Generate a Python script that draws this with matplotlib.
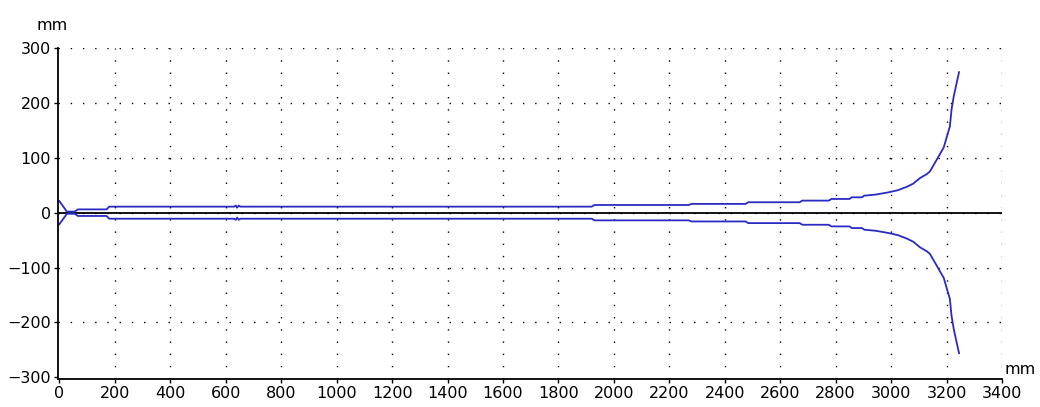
import numpy as np
import matplotlib
matplotlib.use("Agg")
import matplotlib.pyplot as plt

# ---------------- DATA ----------------
# distance along the part (mm) and upper envelope (mm); lower envelope is its mirror
dist = [0, 27, 55, 67, 170, 180, 630, 636, 641, 647, 653, 1920, 1930,
        2270, 2280, 2475, 2485, 2670, 2680, 2775, 2785, 2850, 2858, 2895,
        2903, 2945, 2990, 3025, 3056, 3080, 3104, 3128, 3140, 3164, 3190,
        3202, 3212, 3218, 3226, 3235, 3245]
upper = [21, 2, 2, 6, 6, 11, 11, 13, 9, 13, 11, 11, 14,
         14, 16, 16, 19, 19, 22, 22, 25, 25, 28, 28,
         31, 33, 37, 41, 47, 53, 63, 70, 75, 96, 119,
         140, 157, 188, 212, 233, 256]
lower = [-v for v in upper]

xticks = np.arange(0, 3401, 200)
yticks = [-300, -200, -100, 0, 100, 200, 300]

# ---------------- PLOT ----------------
plt.rcParams['font.family'] = ['DejaVu Sans']
fig = plt.figure(figsize=(10.4, 4.07), dpi=100)
ax = fig.add_axes([58 / 1040, 28 / 407, 944 / 1040, 331 / 407])

ax.set_xlim(-5, 3400)
ax.set_ylim(-303, 300)

dots = (0, (1, 7.8))
for xv in xticks[1:]:
    ax.axvline(xv, color='black', lw=1.0, linestyle=dots, zorder=0)
for yv in yticks[1:]:
    ax.axhline(yv, color='black', lw=1.0, linestyle=dots, zorder=0)

ax.plot([0, 3400], [0, 0], color='black', lw=1.3, zorder=1)
ax.plot(dist, upper, color='#2a2ac4', lw=1.3, zorder=2)
ax.plot(dist, lower, color='#2a2ac4', lw=1.3, zorder=2)

ax.set_xticks(xticks)
ax.set_yticks(yticks)
ax.tick_params(direction='out', length=3, width=1, labelsize=11.5, pad=2)
for s in ['top', 'right']:
    ax.spines[s].set_visible(False)
for s in ['left', 'bottom']:
    ax.spines[s].set_linewidth(1.3)

fig.text(36 / 1040, 1 - 25 / 407, 'mm', fontsize=11.5, va='center', ha='left')
fig.text(1004 / 1040, 1 - 370 / 407, 'mm', fontsize=11.5, va='center', ha='left')

fig.savefig('out.png', dpi=100)
